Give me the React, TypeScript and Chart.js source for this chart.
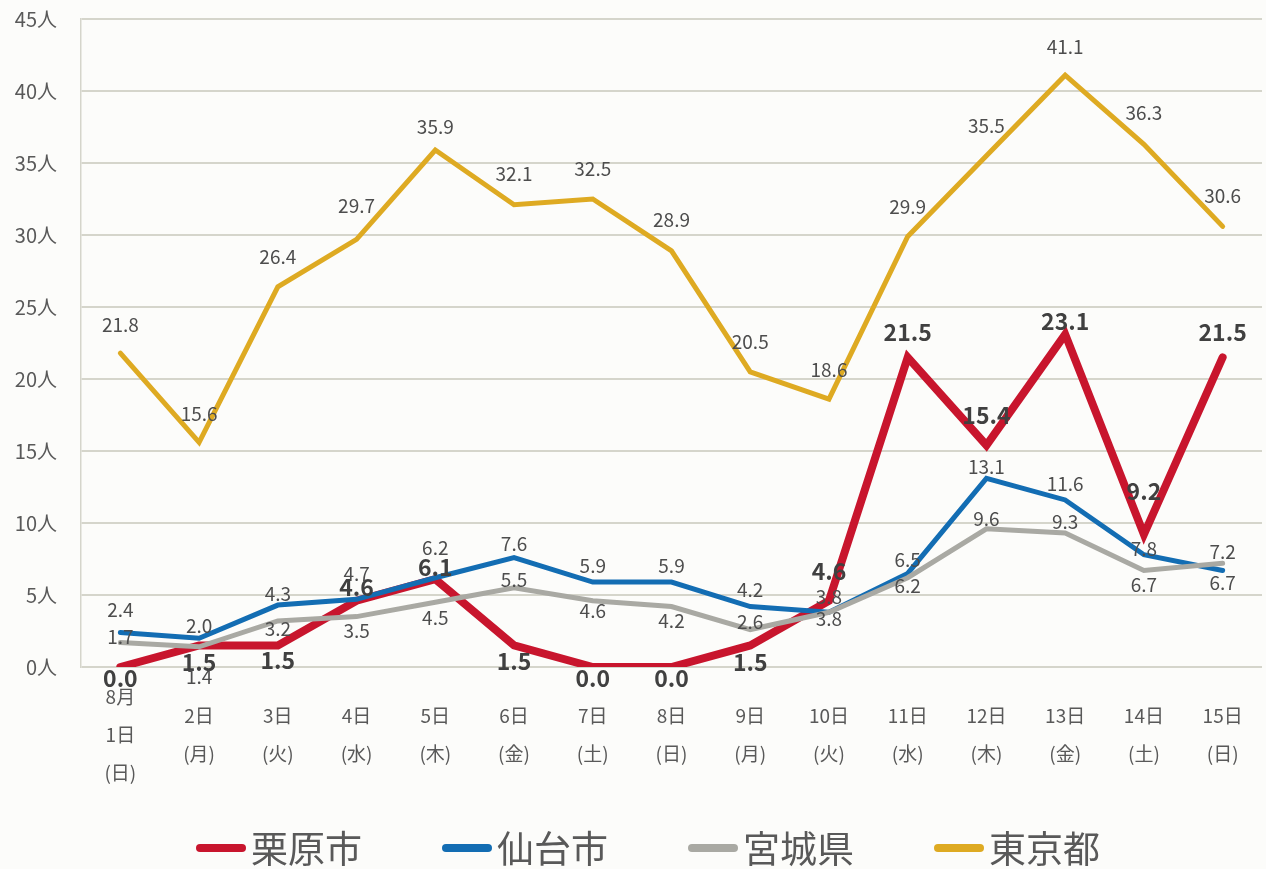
import React, { useEffect, useRef } from 'react';
import { Chart, registerables } from 'chart.js';

Chart.register(...registerables);

// ---- data ----
const monthLabel = '8月';
const dates = ['1日', '2日', '3日', '4日', '5日', '6日', '7日', '8日', '9日', '10日', '11日', '12日', '13日', '14日', '15日'];
const weekdays = ['(日)', '(月)', '(火)', '(水)', '(木)', '(金)', '(土)', '(日)', '(月)', '(火)', '(水)', '(木)', '(金)', '(土)', '(日)'];

const seriesNames = ['栗原市', '仙台市', '宮城県', '東京都'];
const kuriharaValues = [0.0, 1.5, 1.5, 4.6, 6.1, 1.5, 0.0, 0.0, 1.5, 4.6, 21.5, 15.4, 23.1, 9.2, 21.5];
const sendaiValues = [2.4, 2.0, 4.3, 4.7, 6.2, 7.6, 5.9, 5.9, 4.2, 3.8, 6.5, 13.1, 11.6, 7.8, 6.7];
const miyagiValues = [1.7, 1.4, 3.2, 3.5, 4.5, 5.5, 4.6, 4.2, 2.6, 3.8, 6.2, 9.6, 9.3, 6.7, 7.2];
const tokyoValues = [21.8, 15.6, 26.4, 29.7, 35.9, 32.1, 32.5, 28.9, 20.5, 18.6, 29.9, 35.5, 41.1, 36.3, 30.6];

const yMin = 0;
const yMax = 45;
const yStep = 5;
const yUnit = '人';

// ---- style ----
const seriesColors = ['#c8152d', '#136db3', '#a9a9a3', '#deaa22'];
const seriesWidths = [8, 5, 5, 5];
const seriesOrder = [3, 2, 1, 0];
// vertical placement of each data label relative to its point (px)
const kuriharaLabelDy = [11, 17, 15, -13, -12, 16, 11, 11, 17, -29, -25, -30, -13, -43, -25];
const sendaiLabelDy = [-23, -12, -11, -26, -30, -14, -16, -16, -17, -15, -14, -12, -16, -6, 12];
const miyagiLabelDy = [-6, 30, 8, 14, 16, -8, 10, 14, -8, 7, 8, -10, -11, 14, -12];
const tokyoLabelDy = [-28, -29, -30, -34, -23, -31, -30, -31, -30, -29, -30, -30, -28, -31, -31];

const FONT = "'Noto Sans CJK JP', 'Noto Sans', sans-serif";

const bgPlugin = {
  id: 'bgFill',
  beforeDraw(chart: any) {
    const { ctx, width, height } = chart;
    ctx.save();
    ctx.fillStyle = '#fcfcfa';
    ctx.fillRect(0, 0, width, height);
    ctx.restore();
  },
};

const dataLabelPlugin = {
  id: 'dataLabels',
  afterDatasetsDraw(chart: any) {
    const { ctx } = chart;
    const offsets = [kuriharaLabelDy, sendaiLabelDy, miyagiLabelDy, tokyoLabelDy];
    ctx.save();
    ctx.textAlign = 'center';
    ctx.textBaseline = 'middle';
    chart.data.datasets.forEach((ds: any, i: number) => {
      const meta = chart.getDatasetMeta(i);
      const bold = i === 0;
      ctx.font = bold ? `bold 23px ${FONT}` : `19px ${FONT}`;
      ctx.fillStyle = bold ? '#404040' : '#4d4d4d';
      meta.data.forEach((pt: any, j: number) => {
        const v = ds.data[j] as number;
        ctx.fillText(v.toFixed(1), pt.x, pt.y + offsets[i][j]);
      });
    });
    ctx.restore();
  },
};

const legendPlugin = {
  id: 'bottomLegend',
  afterDraw(chart: any) {
    const { ctx } = chart;
    const fontSize = 37;
    const lineW = 50;
    const lineH = 8;
    const gapText = 5;
    const gapItems = 80;
    const cy = 848;
    ctx.save();
    ctx.font = `${fontSize}px ${FONT}`;
    const items = chart.data.datasets.map((ds: any) => {
      const tw = ctx.measureText(ds.label).width;
      return { label: ds.label, color: ds.borderColor, w: lineW + gapText + tw };
    });
    const total = items.reduce((s: number, it: any) => s + it.w, 0) + gapItems * (items.length - 1);
    let x = 648 - total / 2;
    ctx.textBaseline = 'middle';
    ctx.textAlign = 'left';
    items.forEach((it: any) => {
      ctx.strokeStyle = it.color;
      ctx.lineWidth = lineH;
      ctx.lineCap = 'round';
      ctx.beginPath();
      ctx.moveTo(x + lineH / 2, cy);
      ctx.lineTo(x + lineW - lineH / 2, cy);
      ctx.stroke();
      ctx.fillStyle = '#595959';
      ctx.fillText(it.label, x + lineW + gapText, cy + 1);
      x += it.w + gapItems;
    });
    ctx.restore();
  },
};

export default function App() {
  const canvasRef = useRef<HTMLCanvasElement | null>(null);

  useEffect(() => {
    if (!canvasRef.current) return;
    Chart.defaults.font.family = FONT;
    const labels = dates.map((d, i) => (i === 0 ? [monthLabel, d, weekdays[i]] : [d, weekdays[i]]));
    const values = [kuriharaValues, sendaiValues, miyagiValues, tokyoValues];
    const chart = new Chart(canvasRef.current, {
      type: 'line',
      data: {
        labels,
        datasets: seriesNames.map((name, i) => ({
          label: name,
          data: values[i],
          borderColor: seriesColors[i],
          backgroundColor: seriesColors[i],
          borderWidth: seriesWidths[i],
          pointRadius: 0,
          pointHoverRadius: 0,
          tension: 0,
          fill: false,
          borderJoinStyle: 'miter' as const,
          borderCapStyle: 'round' as const,
          order: seriesOrder[i],
        })),
      },
      options: {
        responsive: false,
        animation: false,
        layout: { padding: { top: 0, right: 4, left: 0, bottom: 77 } },
        plugins: {
          legend: { display: false },
          tooltip: { enabled: false },
        },
        scales: {
          x: {
            offset: true,
            grid: {
              display: true,
              drawOnChartArea: false,
              drawTicks: true,
              tickLength: 28,
              tickColor: 'rgba(0,0,0,0)',
            },
            border: { display: false },
            ticks: {
              color: '#595959',
              font: { size: 19, family: FONT, lineHeight: 2.0 },
              padding: 2,
              maxRotation: 0,
              autoSkip: false,
              crossAlign: 'center',
            },
            afterFit(scale: any) {
              scale.height = 125;
            },
          },
          y: {
            min: yMin,
            max: yMax,
            grid: {
              color: '#d5d5cb',
              lineWidth: 2,
              drawTicks: true,
              tickLength: 17,
              tickColor: 'rgba(0,0,0,0)',
            },
            border: { display: true, color: '#d5d5cb', width: 1.5 },
            ticks: {
              stepSize: yStep,
              color: '#595959',
              font: { size: 20, family: FONT },
              padding: 7,
              callback: (v: any) => `${v}${yUnit}`,
            },
            afterFit(scale: any) {
              scale.width = 81;
            },
          },
        },
      },
      plugins: [bgPlugin, dataLabelPlugin, legendPlugin],
    });
    return () => chart.destroy();
  }, []);

  return (
    <div style={{ position: 'fixed', left: 0, top: 0, width: 1266, height: 869, background: '#fcfcfa' }}>
      <canvas ref={canvasRef} width={1266} height={869} style={{ display: 'block' }} />
    </div>
  );
}
